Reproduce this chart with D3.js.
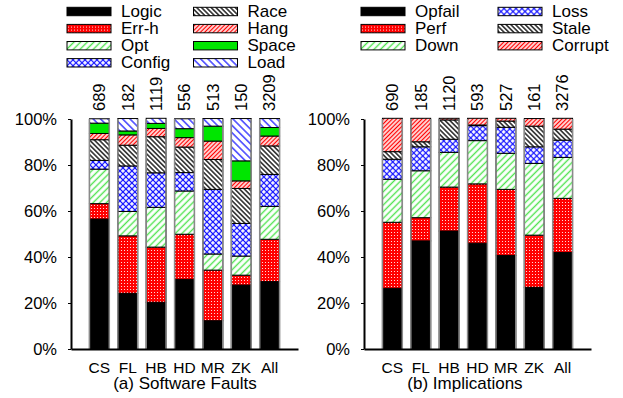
<!DOCTYPE html>
<html>
<head>
<meta charset="utf-8">
<script src="https://cdn.jsdelivr.net/npm/d3@7"></script>
<style>
  body { margin: 0; background: #fff; }
  svg { font-family: "Liberation Sans", Arial, Helvetica, sans-serif; }
</style>
</head>
<body>
<svg id="chart" width="623" height="398"></svg>
<script>
// systems on the x axis (same for both panels)
const systems = ["CS", "FL", "HB", "HD", "MR", "ZK", "All"];

// (a) software faults
const faultCounts = [689, 182, 1119, 556, 513, 150, 3209];
const faultTypes = ["Logic", "Err-h", "Opt", "Config", "Race", "Hang", "Space", "Load"];
const logic  = [56.5, 24.2, 20.3, 30.3, 12.3, 27.8, 29.3];
const errH   = [6.7, 25.0, 24.0, 19.6, 22.0, 4.3, 18.4];
const opt    = [15.0, 10.6, 17.3, 18.8, 7.0, 8.3, 14.3];
const config = [3.8, 19.8, 15.0, 8.0, 28.1, 14.2, 13.9];
const race   = [9.0, 9.0, 15.7, 11.1, 13.0, 15.2, 12.4];
const hang   = [2.7, 4.5, 3.6, 4.1, 8.0, 3.3, 4.3];
const space  = [4.5, 1.7, 2.2, 3.9, 6.5, 8.7, 3.7];
const load   = [1.9, 5.4, 2.2, 4.3, 3.3, 18.4, 3.9];

// (b) implications
const implCounts = [690, 185, 1120, 593, 527, 161, 3276];
const implTypes = ["Opfail", "Perf", "Down", "Loss", "Stale", "Corrupt"];
const opfail  = [26.4, 47.0, 51.3, 46.0, 40.7, 26.8, 42.0];
const perf    = [28.7, 10.1, 19.1, 25.8, 28.7, 22.7, 23.5];
const down    = [18.7, 20.4, 15.1, 18.8, 15.7, 31.2, 17.8];
const loss    = [8.7, 10.4, 5.7, 6.5, 11.3, 7.2, 7.5];
const stale   = [3.3, 2.2, 8.4, 0.3, 2.7, 9.0, 4.8];
const corrupt = [14.5, 10.2, 0.7, 2.9, 1.2, 3.3, 4.7];

const yTicks = [0, 20, 40, 60, 80, 100];

const svg = d3.select("#chart");
const defs = svg.append("defs");

// fill patterns
function stripes(id, color, gap, angle, width) {
  const p = defs.append("pattern").attr("id", id)
    .attr("patternUnits", "userSpaceOnUse")
    .attr("width", gap).attr("height", gap)
    .attr("patternTransform", `rotate(${angle})`);
  p.append("rect").attr("width", gap).attr("height", gap).attr("fill", "#fff");
  p.append("line").attr("x1", gap / 2).attr("x2", gap / 2).attr("y1", 0).attr("y2", gap)
    .attr("stroke", color).attr("stroke-width", width);
}
stripes("pGreen", "#4fe34f", 4.7, 45, 1.4);
stripes("pRed", "#ff0000", 3.0, 45, 1.4);
stripes("pBlack", "#000", 3.4, -45, 1.3);
stripes("pBlue", "#2222ff", 5.2, -45, 1.3);

(function () {
  const g = 4.24;
  const p = defs.append("pattern").attr("id", "pCross")
    .attr("patternUnits", "userSpaceOnUse")
    .attr("width", g).attr("height", g)
    .attr("patternTransform", "rotate(45)");
  p.append("rect").attr("width", g).attr("height", g).attr("fill", "#fff");
  p.append("line").attr("x1", 0).attr("x2", g).attr("y1", g / 2).attr("y2", g / 2)
    .attr("stroke", "#1010ff").attr("stroke-width", 1.2);
  p.append("line").attr("x1", g / 2).attr("x2", g / 2).attr("y1", 0).attr("y2", g)
    .attr("stroke", "#1010ff").attr("stroke-width", 1.2);
})();

(function () {
  const p = defs.append("pattern").attr("id", "pDots")
    .attr("patternUnits", "userSpaceOnUse")
    .attr("width", 3).attr("height", 3);
  p.append("rect").attr("width", 3).attr("height", 3).attr("fill", "#ff0000");
  p.append("circle").attr("cx", 1.5).attr("cy", 1.5).attr("r", 0.55).attr("fill", "#fff");
})();

const faultFills = ["#000", "url(#pDots)", "url(#pGreen)", "url(#pCross)",
                    "url(#pBlack)", "url(#pRed)", "#00e600", "url(#pBlue)"];
const implFills = ["#000", "url(#pDots)", "url(#pGreen)", "url(#pCross)",
                   "url(#pBlack)", "url(#pRed)"];

const y = d3.scaleLinear().domain([0, 100]).range([349, 119]);

function panel(opts) {
  const x = d3.scaleBand().domain(systems)
    .range([opts.x0, opts.x0 + 227])
    .paddingInner(0.3).paddingOuter(0.65);

  const g = svg.append("g");

  const stack = d3.stack().keys(opts.keys.map((k, i) => i))
    .value((d, i) => opts.series[i][d]);
  const layers = stack(systems.map((s, j) => j));

  g.selectAll("g.layer").data(layers).join("g")
    .attr("fill", (d, i) => opts.fills[i])
    .selectAll("rect").data(d => d).join("rect")
      .attr("x", (d, j) => x(systems[j]))
      .attr("width", x.bandwidth())
      .attr("y", d => y(d[1]))
      .attr("height", d => y(d[0]) - y(d[1]))
      .attr("stroke", "#000").attr("stroke-width", 1);

  // grey sides of each bar
  g.selectAll("line.side").data(systems.flatMap(s => [x(s), x(s) + x.bandwidth()]))
    .join("line")
      .attr("x1", d => d).attr("x2", d => d)
      .attr("y1", y(100)).attr("y2", y(0))
      .attr("stroke", "#8a8a8a").attr("stroke-width", 1.5);

  // count labels above bars
  g.selectAll("text.count").data(opts.counts).join("text")
    .attr("transform", (d, j) => `translate(${x(systems[j]) + x.bandwidth() / 2},111) rotate(-90)`)
    .attr("dy", "0.35em")
    .attr("font-size", 16.5)
    .text(d => d);

  // axes
  const ya = g.append("g").attr("transform", `translate(${opts.x0},0)`)
    .call(d3.axisLeft(y).tickValues(yTicks).tickFormat(d => d + "%")
      .tickSize(3).tickSizeOuter(0).tickPadding(11));
  ya.select(".domain").attr("stroke-width", 2);
  ya.selectAll("text").attr("font-size", 16.5).attr("fill", "#000").attr("font-family", null);

  const xa = g.append("g").attr("transform", `translate(0,${y(0)})`)
    .call(d3.axisBottom(x).tickSize(0).tickSizeOuter(0).tickPadding(12.5));
  xa.select(".domain").attr("stroke-width", 2);
  xa.selectAll("text").attr("font-size", 15.5).attr("fill", "#000").attr("font-family", null);

  g.append("text").attr("x", opts.titleX).attr("y", 388.5)
    .attr("text-anchor", "middle").attr("font-size", 17)
    .text(opts.title);

  // legend
  const perCol = Math.ceil(opts.keys.length / 2);
  const lg = g.selectAll("g.leg").data(opts.keys).join("g")
    .attr("transform", (d, i) => {
      const col = Math.floor(i / perCol), row = i % perCol;
      return `translate(${opts.legX[col]},${11.5 + row * 17.1})`;
    });
  lg.append("rect").attr("x", 0).attr("y", -4.2).attr("width", 44).attr("height", 8.4)
    .attr("fill", (d, i) => opts.fills[i]).attr("stroke", "#000").attr("stroke-width", 1);
  lg.append("text").attr("x", 54).attr("y", 5.6).attr("font-size", 17).text(d => d);
}

panel({
  x0: 71, keys: faultTypes, fills: faultFills, counts: faultCounts,
  series: [logic, errH, opt, config, race, hang, space, load],
  title: "(a) Software Faults", titleX: 185, legX: [67, 193.5]
});
panel({
  x0: 364, keys: implTypes, fills: implFills, counts: implCounts,
  series: [opfail, perf, down, loss, stale, corrupt],
  title: "(b) Implications", titleX: 465, legX: [361, 498]
});
</script>
</body>
</html>
